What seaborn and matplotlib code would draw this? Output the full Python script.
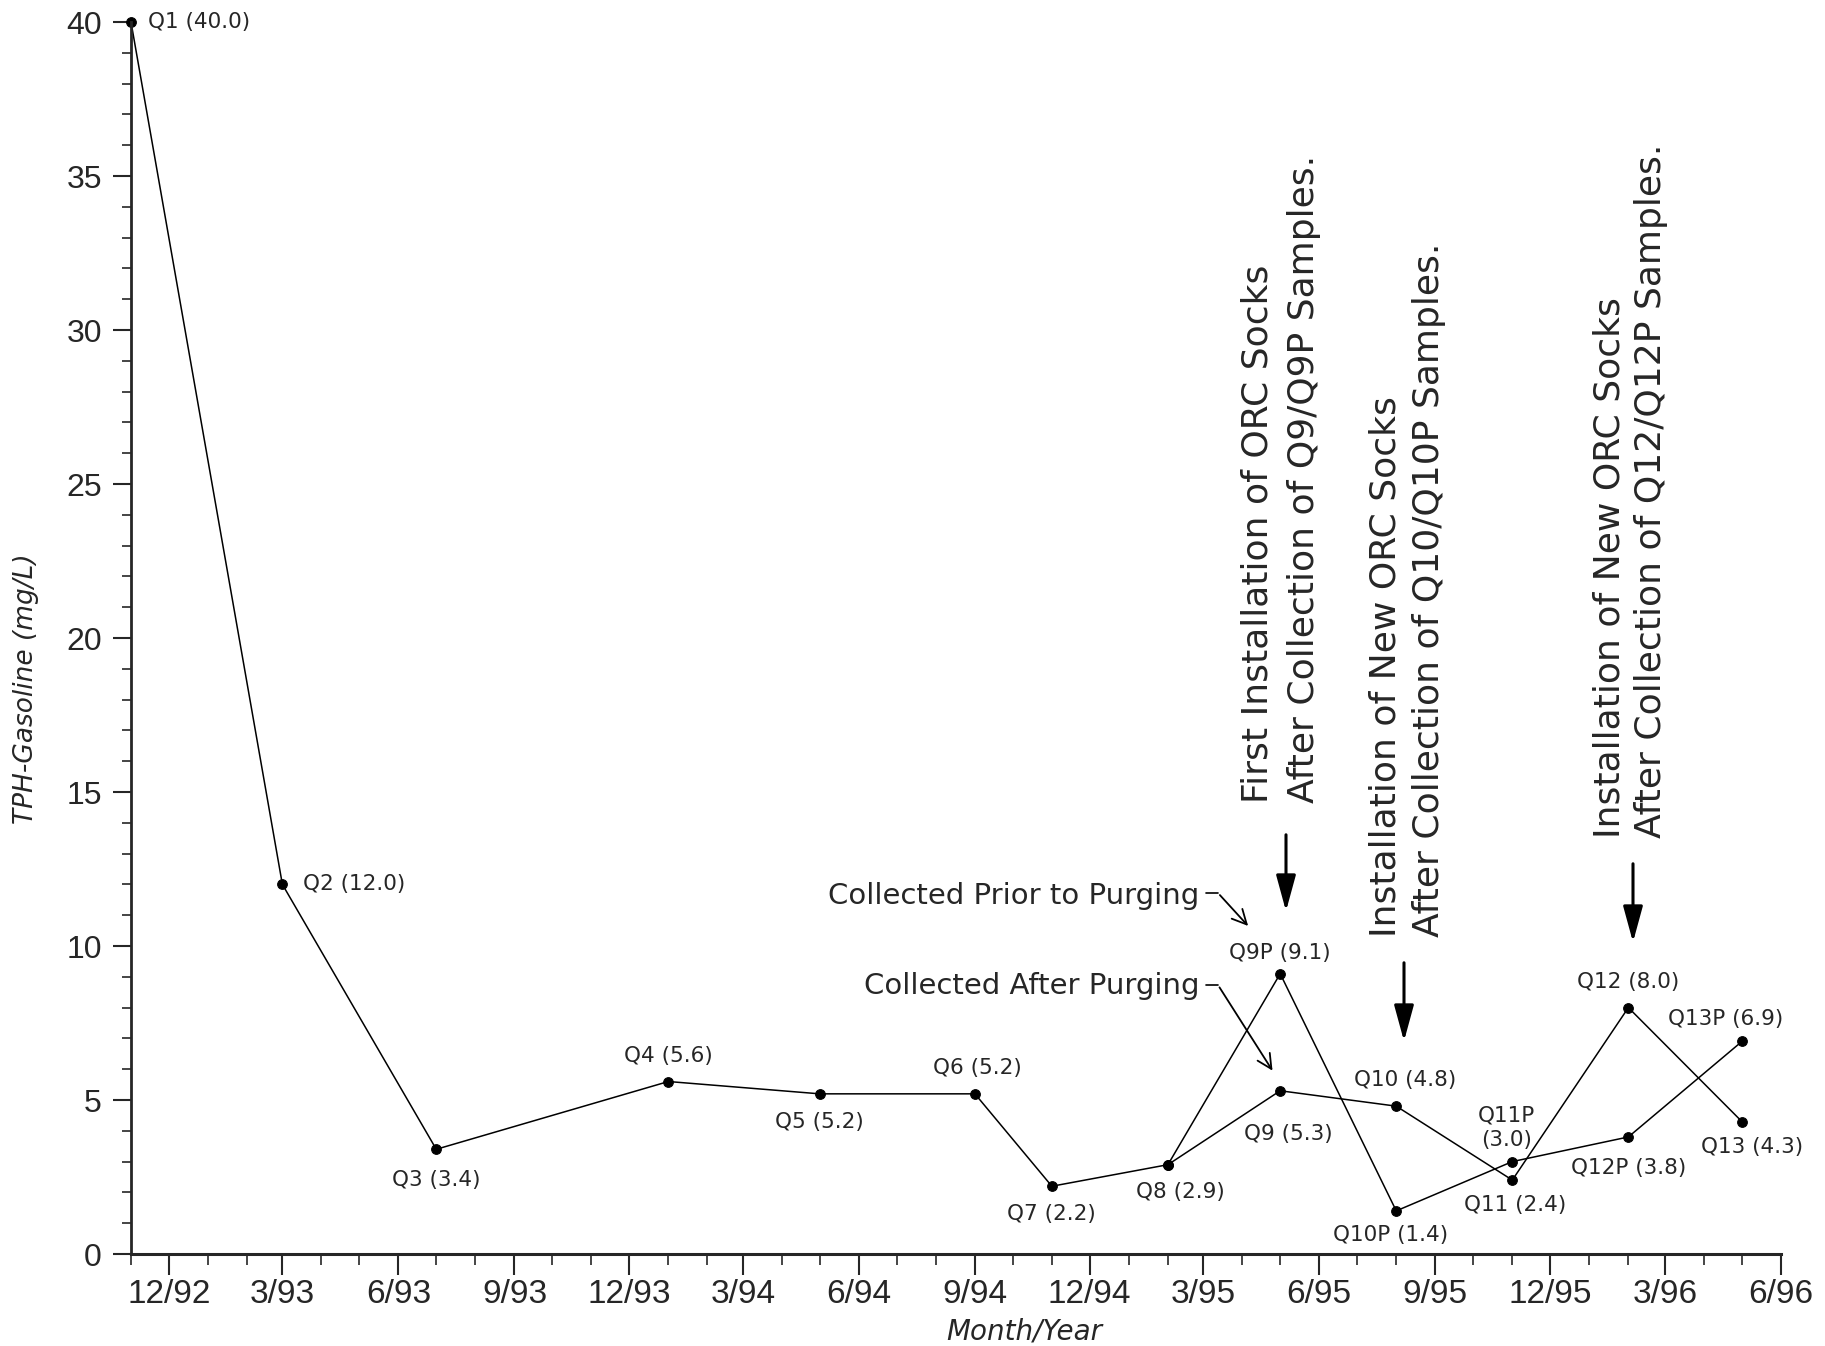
import pandas as pd
import matplotlib
matplotlib.use('Agg')
import matplotlib.pyplot as plt
import matplotlib.dates as mdates
from matplotlib.ticker import MultipleLocator, FuncFormatter
import seaborn as sns

# Samples collected after purging (main series, Q1-Q13)
after_dates = ['1992-11-01', '1993-03-01', '1993-07-01', '1994-01-01', '1994-05-01', '1994-09-01',
               '1994-11-01', '1995-02-01', '1995-05-01', '1995-08-01', '1995-11-01', '1996-02-01',
               '1996-05-01']
after_values = [40.0, 12.0, 3.4, 5.6, 5.2, 5.2, 2.2, 2.9, 5.3, 4.8, 2.4, 8.0, 4.3]
after_labels = ['Q1 (40.0)', 'Q2 (12.0)', 'Q3 (3.4)', 'Q4 (5.6)', 'Q5 (5.2)', 'Q6 (5.2)', 'Q7 (2.2)',
                'Q8 (2.9)', 'Q9 (5.3)', 'Q10 (4.8)', 'Q11 (2.4)', 'Q12 (8.0)', 'Q13 (4.3)']

# Samples collected prior to purging (starts from shared Q8 point)
prior_dates = ['1995-02-01', '1995-05-01', '1995-08-01', '1995-11-01', '1996-02-01', '1996-05-01']
prior_values = [2.9, 9.1, 1.4, 3.0, 3.8, 6.9]
prior_labels = [None, 'Q9P (9.1)', 'Q10P (1.4)', 'Q11P\n(3.0)', 'Q12P (3.8)', 'Q13P (6.9)']

# label offsets in pixels (dx, dy, ha)
after_offsets = [(17, 0, 'left'), (21, 0, 'left'), (0, -31, 'center'), (0, 26, 'center'), (0, -28, 'center'),
                 (2, 26, 'center'), (0, -28, 'center'), (12, -27, 'center'), (8, -43, 'center'),
                 (9, 26, 'center'), (3, -25, 'center'), (0, 26, 'center'), (10, -25, 'center')]
prior_offsets = [None, (0, 21, 'center'), (-6, -24, 'center'), (-6, 34, 'center'), (0, -31, 'center'),
                 (-16, 22, 'center')]

# rotated notes: (line1, line2, x1, x2, bottom) in figure pixels from top-left
notes = [('First Installation of ORC Socks', 'After Collection of Q9/Q9P Samples.', 1257, 1304, 803),
         ('Installation of New ORC Socks', 'After Collection of Q10/Q10P Samples.', 1385, 1429, 937),
         ('Installation of New ORC Socks', 'After Collection of Q12/Q12P Samples.', 1609, 1651, 838)]
note_arrows = [(1286, 832, 914), (1404, 960, 1044), (1633, 861, 945)]

W, H = 1825, 1346
sns.set_style('ticks')
plt.rcParams['font.family'] = ['DejaVu Sans']
tick_font = 'Liberation Sans'

fig = plt.figure(figsize=(W / 100, H / 100), dpi=100)
ax = fig.add_axes([131 / W, 1 - 1254 / H, (1781 - 131) / W, (1254 - 22) / H])

df_after = pd.DataFrame({'Date': pd.to_datetime(after_dates), 'TPH': after_values})
df_prior = pd.DataFrame({'Date': pd.to_datetime(prior_dates), 'TPH': prior_values})

for d in [df_after, df_prior]:
    sns.lineplot(data=d, x='Date', y='TPH', color='black', marker='o', markersize=7, linewidth=1.1,
                 markeredgecolor='black', clip_on=False, ax=ax)

# point labels
for d, labs, offs in [(df_after, after_labels, after_offsets), (df_prior, prior_labels, prior_offsets)]:
    for (dt, v), lab, off in zip(d[['Date', 'TPH']].values, labs, offs):
        if lab is None:
            continue
        ax.annotate(lab, xy=(mdates.date2num(pd.Timestamp(dt)), v), xytext=(off[0], off[1]),
                    textcoords='offset pixels', ha=off[2], va='center', fontsize=15.5, linespacing=1.3)

ax.set_ylim(0, 40)
ax.set_xlim(pd.Timestamp('1992-11-01'), pd.Timestamp('1996-06-01'))
ax.yaxis.set_major_locator(MultipleLocator(5))
ax.yaxis.set_minor_locator(MultipleLocator(1))
ax.xaxis.set_major_locator(mdates.MonthLocator(bymonth=[3, 6, 9, 12]))
ax.xaxis.set_minor_locator(mdates.MonthLocator())
ax.xaxis.set_major_formatter(FuncFormatter(
    lambda v, pos: f"{mdates.num2date(v).month}/{mdates.num2date(v).strftime('%y')}"))

ax.tick_params(axis='y', which='major', length=13, width=1.5, pad=8, labelsize=23, labelfontfamily=tick_font)
ax.tick_params(axis='y', which='minor', length=6.5, width=1.2)
ax.tick_params(axis='x', which='major', length=15, width=1.5, pad=3, labelsize=24, labelfontfamily=tick_font)
ax.tick_params(axis='x', which='minor', length=8, width=1.2)
sns.despine(ax=ax)
ax.spines['left'].set_linewidth(2)
ax.spines['bottom'].set_linewidth(2.2)
ax.set_xlabel('')
ax.set_ylabel('')

fig.text(26 / W, 1 - 689 / H, 'TPH-Gasoline (mg/L)', rotation=90, ha='center', va='center',
         fontsize=19, style='italic')
fig.text(1024 / W, 1 - 1332 / H, 'Month/Year', ha='center', va='center', fontsize=20, style='italic')

# "Collected ..." callouts
fig.text(1199 / W, 1 - 896 / H, 'Collected Prior to Purging', ha='right', va='center', fontsize=21)
fig.text(1200 / W, 1 - 986 / H, 'Collected After Purging', ha='right', va='center', fontsize=21)
for y0, tip in [(893, (1250, 928)), (985, (1274, 1073))]:
    fig.add_artist(plt.Line2D([1206 / W, 1218 / W], [1 - y0 / H, 1 - y0 / H], color='black', lw=1.2))
    ax.annotate('', xy=(tip[0], H - tip[1]), xycoords='figure pixels',
                xytext=(1218, H - y0), textcoords='figure pixels',
                arrowprops=dict(arrowstyle='->', color='black', lw=1.3, mutation_scale=26))

# rotated installation notes with down arrows
for line1, line2, x1, x2, bottom in notes:
    fig.text(x1 / W, 1 - bottom / H, line1, rotation=90, ha='center', va='bottom', fontsize=26)
    fig.text(x2 / W, 1 - bottom / H, line2, rotation=90, ha='center', va='bottom', fontsize=26)
for x, y0, y1 in note_arrows:
    ax.annotate('', xy=(x, H - y1), xycoords='figure pixels', xytext=(x, H - y0), textcoords='figure pixels',
                arrowprops=dict(arrowstyle='-|>,head_width=0.3,head_length=1.1', color='black', lw=2.2,
                                mutation_scale=20))

fig.savefig('out.png', dpi=100)
